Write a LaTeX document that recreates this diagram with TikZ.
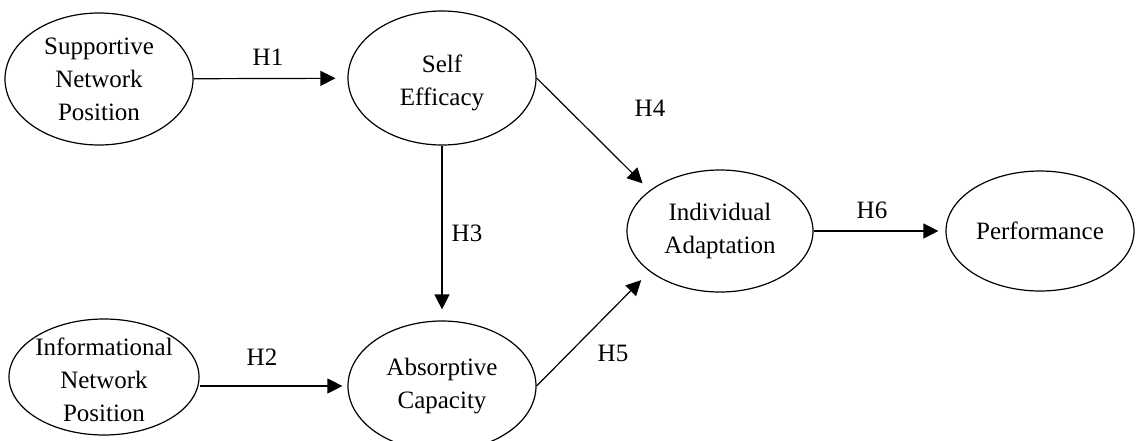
\documentclass[tikz,border=0pt]{standalone}
\usepackage{fontspec}
\setmainfont{Liberation Serif}
\usetikzlibrary{shapes.geometric,arrows.meta}

\tikzset{
  construct/.style={draw, ellipse, line width=0.6pt, inner sep=0pt},
  conlabel/.style={align=center, inner sep=0pt, font=\fontsize{12.5}{16.5}\selectfont},
  hyp/.style={inner sep=0pt, font=\fontsize{12.5}{14}\selectfont},
  link/.style={->, line width=0.6pt},
}

\begin{document}
\begin{tikzpicture}[x=0.5pt, y=-0.5pt, >={Triangle[length=7.5pt,width=7.5pt]}, line join=round]
  \clip (0,0) rectangle (1136,440);
  % constructs
  \node[construct, minimum width=94pt, minimum height=66pt] (snp) at (99,79) {};
  \node[construct, minimum width=94pt, minimum height=67pt] (se) at (442,78) {};
  \node[construct, minimum width=95pt, minimum height=58pt] (inp) at (104,377) {};
  \node[construct, minimum width=94pt, minimum height=65pt] (abs) at (442,386) {};
  \node[construct, minimum width=93pt, minimum height=61pt] (ia) at (720,231) {};
  \node[construct, minimum width=94pt, minimum height=60pt] (perf) at (1040,231) {};

  \node[conlabel] (snp-t) at (snp) {Supportive\\Network\\Position};
  \node[conlabel] (se-t) at (442,83) {Self\\Efficacy};
  \node[conlabel] (inp-t) at (104,380) {Informational\\Network\\Position};
  \node[conlabel] (abs-t) at (abs) {Absorptive\\Capacity};
  \node[conlabel] (ia-t) at (ia) {Individual\\Adaptation};
  \node[conlabel] (perf-t) at (perf) {Performance};

  % hypotheses
  \draw[link, shorten >=6pt] (snp) -- (se);
  \draw[link, shorten >=2.5pt] (inp.east |- abs.west) -- (abs.west);
  \draw[link, shorten >=5.5pt] (se.south) -- (abs.north);
  \draw[link, shorten >=5pt] (se.east) -- (ia.150);
  \draw[link, shorten >=6pt] (abs.east) -- (ia.210);
  \draw[link, shorten >=3.5pt] (ia) -- (perf);

  \node[hyp] (h1) at (268,57) {H1};
  \node[hyp] (h2) at (262,357) {H2};
  \node[hyp] (h3) at (467,233) {H3};
  \node[hyp] (h4) at (650,108) {H4};
  \node[hyp] (h5) at (613,353) {H5};
  \node[hyp] (h6) at (872,210) {H6};
\end{tikzpicture}
\end{document}
